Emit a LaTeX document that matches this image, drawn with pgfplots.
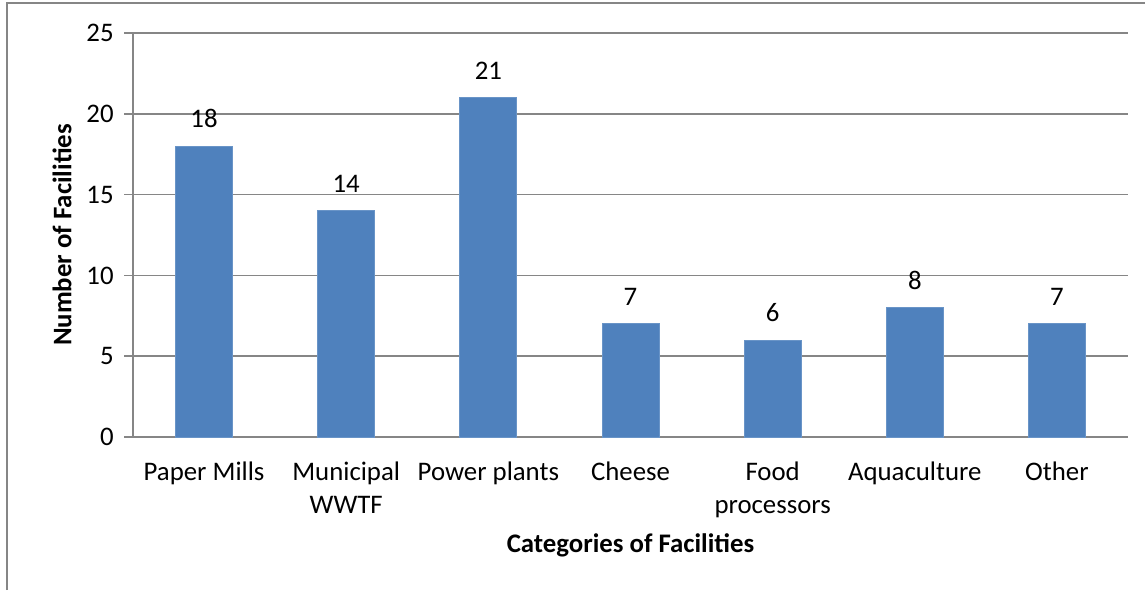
\documentclass[border=0pt]{standalone}
\usepackage{fontspec}
\setmainfont{Carlito}
\usepackage{pgfplots}
\pgfplotsset{compat=1.18}
\definecolor{barblue}{HTML}{4F81BD}
\definecolor{gridgray}{HTML}{868686}

\begin{document}
\fontsize{13.4}{16.5}\selectfont
\begin{tikzpicture}
\useasboundingbox (0,0) rectangle (572.5pt,295pt);
% outer chart frame (left and top edges only)
\draw[gridgray, line width=0.9pt] (3.5pt,0) -- (3.5pt,293.3pt) -- (572.5pt,293.3pt);
\begin{axis}[
  at={(66.5pt,76.5pt)}, anchor=south west,
  width=497.5pt, height=202pt, scale only axis,
  ybar, bar width=28.5pt,
  xmin=-0.5, xmax=6.5, ymin=0, ymax=25,
  xtick=data,
  xticklabels={Paper Mills, {Municipal\\WWTF}, Power plants, Cheese, {Food\\processors}, Aquaculture, Other},
  ytick={0,5,10,15,20,25},
  axis lines=left,
  axis line style={-, gridgray, line width=0.8pt},
  ymajorgrids,
  major grid style={gridgray, line width=0.8pt},
  y tick style={gridgray, line width=0.8pt},
  x tick style={draw=none},
  major tick length=4.5pt,
  tick align=outside,
  tick label style={font=\fontsize{13.4}{16.5}\selectfont, text=black},
  /pgf/number format/assume math mode=true,
  xticklabel style={align=center, anchor=north, inner sep=0pt, yshift=-7.5pt},
  yticklabel style={anchor=east, inner sep=0pt, xshift=-5pt},
  xlabel={\textbf{Categories of Facilities}},
  ylabel={\textbf{Number of Facilities}},
  every axis x label/.style={at={(axis description cs:0.5,0)}, anchor=center, yshift=-54pt},
  every axis y label/.style={at={(axis description cs:-0.0714,0.5)}, rotate=90, anchor=center},
  nodes near coords,
  nodes near coords style={anchor=south, inner sep=0pt, yshift=9pt, font=\fontsize{13.4}{16.5}\selectfont, text=black},
]
\addplot[fill=barblue, draw=barblue!85!white] coordinates {
  (0,18) (1,14) (2,21) (3,7) (4,6) (5,8) (6,7)
};
\end{axis}
\end{tikzpicture}
\end{document}
